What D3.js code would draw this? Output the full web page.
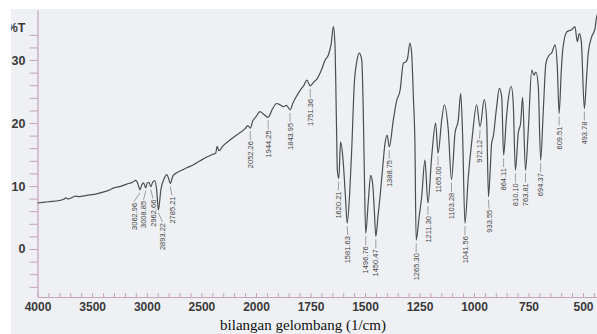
<!DOCTYPE html>
<html>
<head>
<meta charset="utf-8">
<script src="https://cdn.jsdelivr.net/npm/d3@7"></script>
<style>
  html, body { margin: 0; padding: 0; background: #fff; }
  svg { display: block; }
</style>
</head>
<body>
<svg id="chart" width="597" height="334"></svg>
<script>
// IR spectrum, wavenumber (1/cm) vs %T
const wavenumbers = [
  4000, 3900, 3800, 3760, 3740, 3720, 3680, 3650, 3620, 3550, 3450, 3350, 3300, 3250, 3183, 3130, 3100, 3080,
  3062.96, 3045, 3030, 3008.85, 2995, 2980, 2962.66, 2945, 2925, 2910, 2893.22, 2870, 2840, 2817, 2800, 2785.21,
  2760, 2726, 2680, 2634, 2580, 2512, 2450, 2400, 2370, 2355, 2340, 2300, 2238, 2160, 2100, 2075, 2052.26, 2030,
  2000, 1982, 1965, 1944.25, 1925, 1905, 1890, 1875, 1860, 1843.95, 1830, 1815, 1795, 1780, 1767, 1751.36, 1735,
  1720, 1700, 1683, 1668, 1655, 1645, 1638, 1630, 1627, 1620.21, 1612, 1602, 1590, 1581.63, 1570, 1561, 1549,
  1538, 1526, 1515, 1508, 1502, 1496.76, 1485, 1474, 1465, 1457, 1450.47, 1441, 1431, 1420, 1408, 1398, 1388.75,
  1370, 1355, 1339, 1324, 1313, 1305, 1294, 1286, 1278, 1271, 1265.30, 1252, 1240, 1225, 1211.30, 1194, 1176,
  1165.00, 1148, 1136, 1118, 1103.28, 1087, 1072, 1061, 1052, 1041.56, 1026, 1008, 988, 972.12, 953, 942, 933.55,
  925, 919, 912, 896, 884, 873, 864.11, 852, 843, 829, 820, 810.10, 797, 786, 777, 763.81, 751, 735, 725, 716, 705,
  694.37, 682, 670, 655, 644, 628, 618, 609.51, 600, 593, 574, 552, 537, 526, 517, 508, 493.78, 484, 476, 460, 445,
  437, 420
];
const transmittance = [
  7.3, 7.5, 7.7, 7.9, 8.1, 7.95, 8.2, 8.4, 8.3, 8.5, 8.8, 9.3, 9.7, 9.9, 10.3, 10.6, 10.9, 10.3,
  9.4, 10.2, 10.5, 9.7, 10.5, 10.6, 9.9, 10.6, 10.8, 9.5, 6.2, 9.5, 11.2, 11.8, 11.2, 10.4,
  11.6, 12.1, 12.5, 12.9, 13.3, 14.0, 14.6, 15.0, 15.2, 16.3, 15.6, 16.4, 17.3, 18.3, 19.1, 19.6, 19.2, 20.3,
  21.0, 21.8, 21.4, 20.9, 22.2, 23.1, 22.9, 22.6, 22.8, 22.1, 23.2, 24.2, 25.3, 26.0, 26.8, 25.9, 26.5,
  27.0, 28.4, 30.0, 30.8, 32.6, 35.3, 32.6, 18.0, 12.5, 11.2, 17.0, 14.7, 8.5, 4.1, 9.0, 15.7, 26.3,
  29.7, 31.1, 30.0, 22.1, 10.0, 2.5, 7.5, 11.7, 10.4, 6.0, 2.0, 5.0, 8.3, 12.5, 16.8, 18.1, 16.2,
  20.5, 23.5, 25.2, 29.5, 29.7, 30.2, 32.7, 31.1, 24.0, 16.8, 1.4, 5.0, 8.3, 14.1, 7.3, 14.7, 20.0,
  15.2, 20.5, 22.9, 18.9, 11.0, 18.4, 20.5, 24.7, 17.8, 4.1, 11.5, 17.8, 22.9, 19.4, 23.7, 20.5, 8.3,
  13.0, 16.8, 17.8, 22.6, 25.5, 24.2, 14.9, 20.5, 23.7, 25.8, 23.1, 12.5, 18.4, 20.0, 24.1, 12.5, 18.9, 28.4, 27.6, 28.1, 25.8,
  14.1, 22.1, 29.5, 30.8, 31.1, 32.4, 29.0, 21.5, 28.0, 31.6, 34.5, 34.8, 35.3, 32.9, 34.2, 33.0, 22.3, 27.0, 31.1, 33.7, 35.0,
  36.9, 38.0
];

// labelled band minima
const peakLabels = [
  3062.96, 3008.85, 2962.66, 2893.22, 2785.21, 2052.26, 1944.25, 1843.95, 1751.36, 1620.21, 1581.63,
  1496.76, 1450.47, 1388.75, 1265.30, 1211.30, 1165.00, 1103.28, 1041.56, 972.12, 933.55, 864.11,
  810.10, 763.81, 694.37, 609.51, 493.78
];

const xTickLabels = [4000, 3500, 3000, 2500, 2000, 1750, 1500, 1250, 1000, 750, 500];
const yTickLabels = [0, 10, 20, 30];
const xAxisTitle = 'bilangan gelombang (1/cm)';
const yAxisTitle = '%T';

const svg = d3.select('#chart');
const width = 597, height = 334;

// paper background (scan starts a little inside the frame)
svg.append('rect').attr('width', width).attr('height', height).attr('fill', '#ffffff');
svg.append('rect')
  .attr('x', 11).attr('y', 9)
  .attr('width', width - 11).attr('height', height - 9)
  .attr('fill', '#eef0f3');

svg.append('defs').append('clipPath').attr('id', 'paper')
  .append('rect').attr('x', 11).attr('y', 9).attr('width', width - 11).attr('height', height - 9);

const root = svg.append('g').attr('clip-path', 'url(#paper)');

// x scale is expanded 2x below 2000 1/cm
const x = d3.scaleLinear()
  .domain([4000, 2000, 400])
  .range([37.5, 256, 604.8]);

const y = d3.scaleLinear()
  .domain([-7.62, 37.94])
  .range([297, 10]);

const axisColor = '#c6a3b8';
const textColor = '#3a3a3a';

// x axis, ticks pointing inward
const xTicks = d3.range(4000, 2000, -100).concat(d3.range(2000, 399, -50));
const xAxis = root.append('g')
  .attr('transform', `translate(0,${y.range()[0]})`)
  .call(d3.axisBottom(x)
    .tickValues(xTicks)
    .tickSize(-4)
    .tickSizeOuter(0)
    .tickPadding(5)
    .tickFormat(d => xTickLabels.includes(d) ? d : ''));
xAxis.select('.domain').attr('stroke', axisColor).attr('stroke-width', 1.2);
xAxis.selectAll('.tick line').attr('stroke', axisColor);
xAxis.selectAll('.tick text')
  .attr('fill', textColor)
  .attr('font-family', 'Liberation Sans, Arial, sans-serif')
  .attr('font-weight', 'bold')
  .attr('font-size', 12);

// y axis
const yAxis = root.append('g')
  .attr('transform', `translate(${x(4000)},0)`)
  .call(d3.axisLeft(y)
    .tickValues(d3.range(-6, 35, 2))
    .tickSize(8)
    .tickSizeOuter(0)
    .tickPadding(4)
    .tickFormat(d => yTickLabels.includes(d) ? d : ''));
yAxis.select('.domain').attr('stroke', axisColor).attr('stroke-width', 1.2);
yAxis.selectAll('.tick line').attr('stroke', axisColor);
yAxis.selectAll('.tick text')
  .attr('fill', textColor)
  .attr('font-family', 'Liberation Sans, Arial, sans-serif')
  .attr('font-weight', 'bold')
  .attr('font-size', 12.5);

root.append('text')
  .attr('x', x(4000) - 12)
  .attr('y', y(35.2))
  .attr('dy', '0.35em')
  .attr('text-anchor', 'end')
  .attr('fill', textColor)
  .attr('font-family', 'Liberation Sans, Arial, sans-serif')
  .attr('font-weight', 'bold')
  .attr('font-size', 12.5)
  .text(yAxisTitle);

// spectrum trace
const points = wavenumbers.map((w, i) => ({ w, t: transmittance[i] }));
root.append('path')
  .datum(points)
  .attr('fill', 'none')
  .attr('stroke', '#4d4d4d')
  .attr('stroke-width', 1.2)
  .attr('stroke-linejoin', 'round')
  .attr('d', d3.line().x(d => x(d.w)).y(d => y(d.t)).curve(d3.curveMonotoneX));

// peak labels: spread crowded labels apart, keep cluster centred
const labels = peakLabels.map(w => {
  const p = points.find(q => q.w === w);
  return { w, px: x(w), py: y(p.t), lx: x(w) };
}).sort((a, b) => a.px - b.px);

const gap = 9.5;
let groups = labels.map(l => ({ items: [l], centre: l.px }));
let merged = true;
while (merged) {
  merged = false;
  for (let i = 0; i < groups.length - 1; i++) {
    const a = groups[i], b = groups[i + 1];
    const aRight = a.centre + (a.items.length - 1) * gap / 2;
    const bLeft = b.centre - (b.items.length - 1) * gap / 2;
    if (bLeft - aRight < gap) {
      const items = a.items.concat(b.items);
      groups.splice(i, 2, { items, centre: d3.mean(items, d => d.px) });
      merged = true;
      break;
    }
  }
}
groups.forEach(g => g.items.forEach((l, i) => {
  l.lx = g.centre + (i - (g.items.length - 1) / 2) * gap;
}));

const peakG = root.append('g');
labels.forEach(l => {
  const top = l.py + 13;
  peakG.append('line')
    .attr('x1', l.px).attr('y1', l.py + 3)
    .attr('x2', l.lx).attr('y2', top - 1)
    .attr('stroke', '#8a8a8a')
    .attr('stroke-width', 0.8);
  peakG.append('text')
    .attr('transform', `translate(${l.lx},${top}) rotate(-90)`)
    .attr('dy', '0.35em')
    .attr('text-anchor', 'end')
    .attr('fill', '#454545')
    .attr('font-family', 'Liberation Sans, Arial, sans-serif')
    .attr('font-size', 7.5)
    .text(l.w.toFixed(2));
});

// x axis title
root.append('text')
  .attr('x', 303)
  .attr('y', 330)
  .attr('text-anchor', 'middle')
  .attr('fill', '#111')
  .attr('font-family', 'Liberation Serif, Times New Roman, serif')
  .attr('font-size', 15)
  .text(xAxisTitle);
</script>
</body>
</html>
